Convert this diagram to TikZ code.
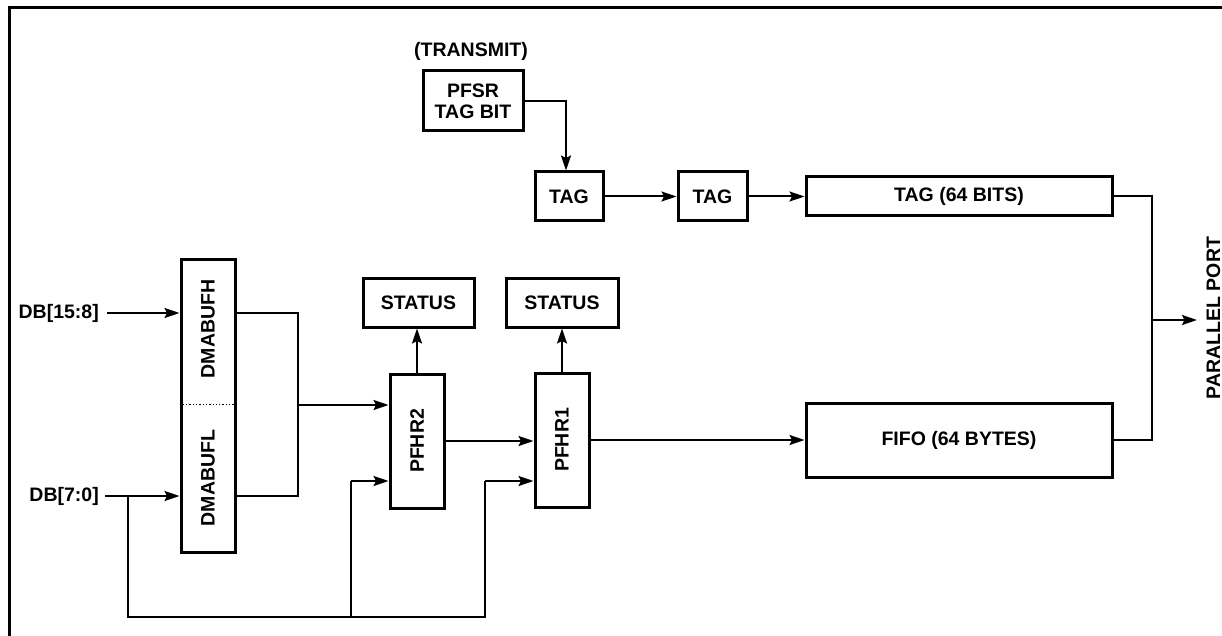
\documentclass[tikz,border=0pt]{standalone}
\usepackage{fontspec}
\setmainfont{Liberation Sans}
\usetikzlibrary{arrows.meta}
\begin{document}
\begin{tikzpicture}[x=1pt,y=-1pt,
  lblfont/.style={font=\bfseries\fontsize{19.5}{23}\selectfont},
  box/.style={draw, line width=3pt, inner sep=0pt, align=center, lblfont},
  lbl/.style={inner sep=0pt, lblfont},
  wire/.style={line width=2pt},
  arr/.style={wire, -{Stealth[length=15pt,width=10pt,inset=2.5pt]}}]
\useasboundingbox (0,0) rectangle (1222,636);
\clip (0,0) rectangle (1222,636);
\draw[line width=3pt] (9,8) rectangle (1300,700);

% top row
\node[lbl] (tx) at (471,51) {(TRANSMIT)};
\node[box, minimum width=100pt, minimum height=60pt] (pfsr) at (473,101) {PFSR\\[-2pt]TAG BIT};
\node[box, minimum width=68pt, minimum height=49pt] (tag1) at (569,196.5) {TAG};
\node[box, minimum width=69pt, minimum height=49pt] (tag2) at (712.5,196.5) {TAG};
\node[box, minimum width=306pt, minimum height=39pt] (tag64) at (959,196.5) {TAG (64 BITS)};
\node[box, minimum width=306pt, minimum height=74pt] (fifo) at (959,440) {FIFO (64 BYTES)};

% status and holding registers
\node[box, minimum width=111pt, minimum height=49pt] (st1) at (418.5,302.5) {STATUS};
\node[box, minimum width=112pt, minimum height=49pt] (st2) at (562,302.5) {STATUS};
\node[box, minimum width=54pt, minimum height=134pt] (pfhr2) at (417,441) {\rotatebox{90}{PFHR2}};
\node[box, minimum width=54pt, minimum height=134pt] (pfhr1) at (562,440) {\rotatebox{90}{PFHR1}};

% DMA buffer
\node[box, minimum width=54pt, minimum height=293pt] (dma) at (208,405.5) {};
\node[lbl, rotate=90] (dmah) at (208,329) {DMABUFH};
\node[lbl, rotate=90] (dmal) at (208,478) {DMABUFL};
\draw[line width=1.3pt, dotted] (dma.west |- 0,404.5) -- (dma.east |- 0,404.5);

% inputs
\node[lbl, anchor=east] (db1) at (99,313) {DB[15:8]};
\node[lbl, anchor=east] (db0) at (99,496) {DB[7:0]};
\coordinate (d1s) at (107,313);
\coordinate (d0s) at (105,496);
\coordinate (br) at (128,496);
\coordinate (bot1) at (351,617);
\coordinate (bot2) at (485,617);
\coordinate (j2) at (351,481);
\coordinate (j1) at (485,481);
\coordinate (mx) at (298,405);
\coordinate (pp) at (1152,320);
\coordinate (ppe) at (1197,320);
\node[lbl, rotate=90] (port) at (1213.5,318) {PARALLEL PORT};

% connectors
\draw[arr] (pfsr.east) -| ([xshift=-3pt]tag1.north);
\draw[arr] (tag1.east) -- (tag2.west);
\draw[arr] (tag2.east) -- (tag64.west);
\draw[wire] (tag64.east) -| (pp) |- (fifo.east);
\draw[arr] (pp) -- (ppe);

\draw[arr] (d1s) -- (d1s -| dma.west);
\draw[arr] (d0s) -- (d0s -| dma.west);
\draw[wire] (br) |- (bot2) -- (j1);
\draw[wire] (bot1) -- (j2);
\draw[arr] (j2) -- (j2 -| pfhr2.west);
\draw[arr] (j1) -- (j1 -| pfhr1.west);

\draw[wire] (d1s -| dma.east) -| (mx);
\draw[wire] (d0s -| dma.east) -| (mx);
\draw[arr] (mx) -- (mx -| pfhr2.west);
\draw[arr] (pfhr2.east) -- (pfhr2.east -| pfhr1.west);
\draw[arr] (pfhr1.east) -- (pfhr1.east -| fifo.west);
\draw[arr] (pfhr2.north) -- (pfhr2.north |- st1.south);
\draw[arr] (pfhr1.north) -- (pfhr1.north |- st2.south);
\end{tikzpicture}
\end{document}
